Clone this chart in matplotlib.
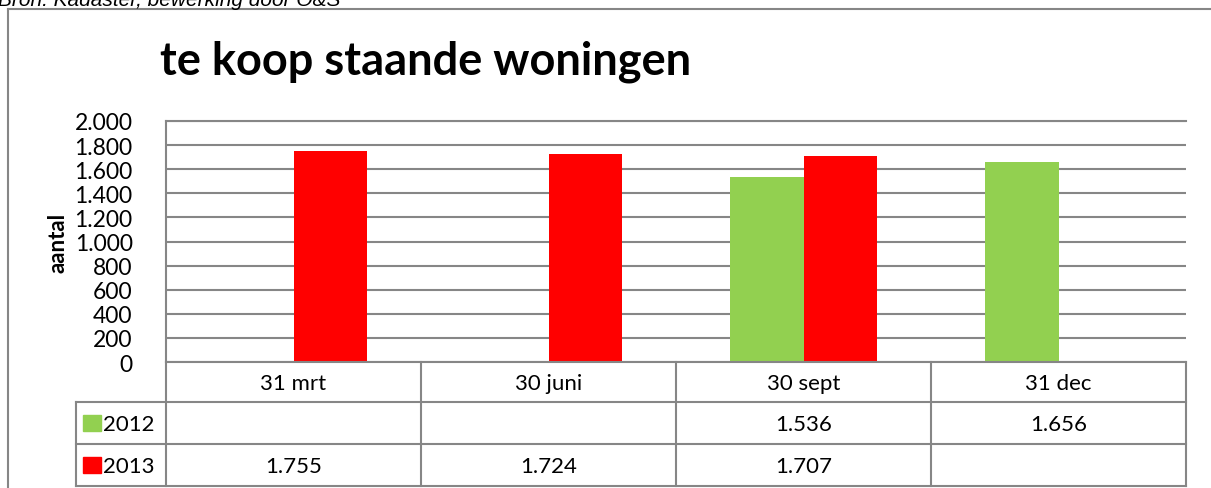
import matplotlib.pyplot as plt
import numpy as np

# data
categories = ["31 mrt", "30 juni", "30 sept", "31 dec"]
series = ["2012", "2013"]
values_2012 = [np.nan, np.nan, 1536, 1656]
values_2013 = [1755, 1724, 1707, np.nan]
labels_2012 = ["", "", "1.536", "1.656"]
labels_2013 = ["1.755", "1.724", "1.707", ""]
yticks = [0, 200, 400, 600, 800, 1000, 1200, 1400, 1600, 1800, 2000]
ytick_labels = ["0", "200", "400", "600", "800", "1.000", "1.200", "1.400", "1.600", "1.800", "2.000"]

green = "#92D050"
red = "#FF0000"
gray = "#868686"
font = ["Lato", "DejaVu Sans"]

W, H = 1211, 489
fig = plt.figure(figsize=(W / 100, H / 100), dpi=100)
plt.rcParams['font.family'] = font

def box(x0, y0, x1, y1):
    # pixel box (top-left origin) -> figure fraction
    return [x0 / W, 1 - y1 / H, (x1 - x0) / W, (y1 - y0) / H]

# outer frame and cut-off source line
fig.add_artist(plt.Line2D([8 / W, 8 / W], [0, 1 - 10 / H], color=gray, lw=1.5))
fig.add_artist(plt.Line2D([8 / W, 1], [1 - 10 / H, 1 - 10 / H], color=gray, lw=1.5))
fig.text(-2 / W, 1 - 6 / H, "Bron: Kadaster, bewerking door O&S", fontsize=15,
         family=["Liberation Sans", "DejaVu Sans"], style="italic",
         va="baseline", ha="left", color="black")

fig.text(160 / W, 1 - 62 / H, "te koop staande woningen", fontsize=32.5,
         fontweight="bold", va="center", ha="left")

# chart
ax = fig.add_axes(box(166, 122, 1186, 363))
x = np.arange(len(categories))
w = 0.287
ax.bar(x - w / 2, values_2012, w, color=green, zorder=3)
ax.bar(x + w / 2, values_2013, w, color=red, zorder=3)
ax.set_xlim(-0.5, len(categories) - 0.5)
ax.set_ylim(0, 2000)
ax.set_yticks(yticks)
ax.set_yticklabels(ytick_labels, fontsize=16.5)
ax.tick_params(axis="y", length=0, pad=24)
ax.set_xticks([])
ax.yaxis.grid(True, color=gray, lw=1.5)
ax.set_axisbelow(True)
for s in ["top", "left"]:
    ax.spines[s].set_color(gray)
    ax.spines[s].set_linewidth(1.5)
ax.spines["right"].set_visible(False)
ax.spines["bottom"].set_visible(False)
ax.set_ylabel("aantal", fontsize=16, fontweight="bold", labelpad=4)

# data table under the chart
tax = fig.add_axes(box(76, 363, 1186, 487))
left = -0.5 - 90 / 255
tax.set_xlim(left, len(categories) - 0.5)
tax.set_ylim(124, 0)
tax.axis("off")
kw = dict(color=gray, lw=1.5, clip_on=False)
tax.plot([-0.5, 3.5], [0, 0], **kw)
for yy in [40, 82, 124]:
    tax.plot([left, 3.5], [yy, yy], **kw)
tax.plot([left, left], [40, 124], **kw)
for xx in np.arange(-0.5, 4, 1):
    tax.plot([xx, xx], [0, 124], **kw)
for i, c in enumerate(categories):
    tax.text(i, 21, c, ha="center", va="center", fontsize=16)
    tax.text(i, 62, labels_2012[i], ha="center", va="center", fontsize=16)
    tax.text(i, 104, labels_2013[i], ha="center", va="center", fontsize=16)
for yy, name, col in [(61, series[0], green), (103, series[1], red)]:
    tax.add_patch(plt.Rectangle((left + 7 / 255, yy - 8), 18 / 255, 16, color=col, clip_on=False))
    tax.text(left + 27 / 255, yy + 1, name, ha="left", va="center", fontsize=16)

fig.savefig("out.png", dpi=100)
